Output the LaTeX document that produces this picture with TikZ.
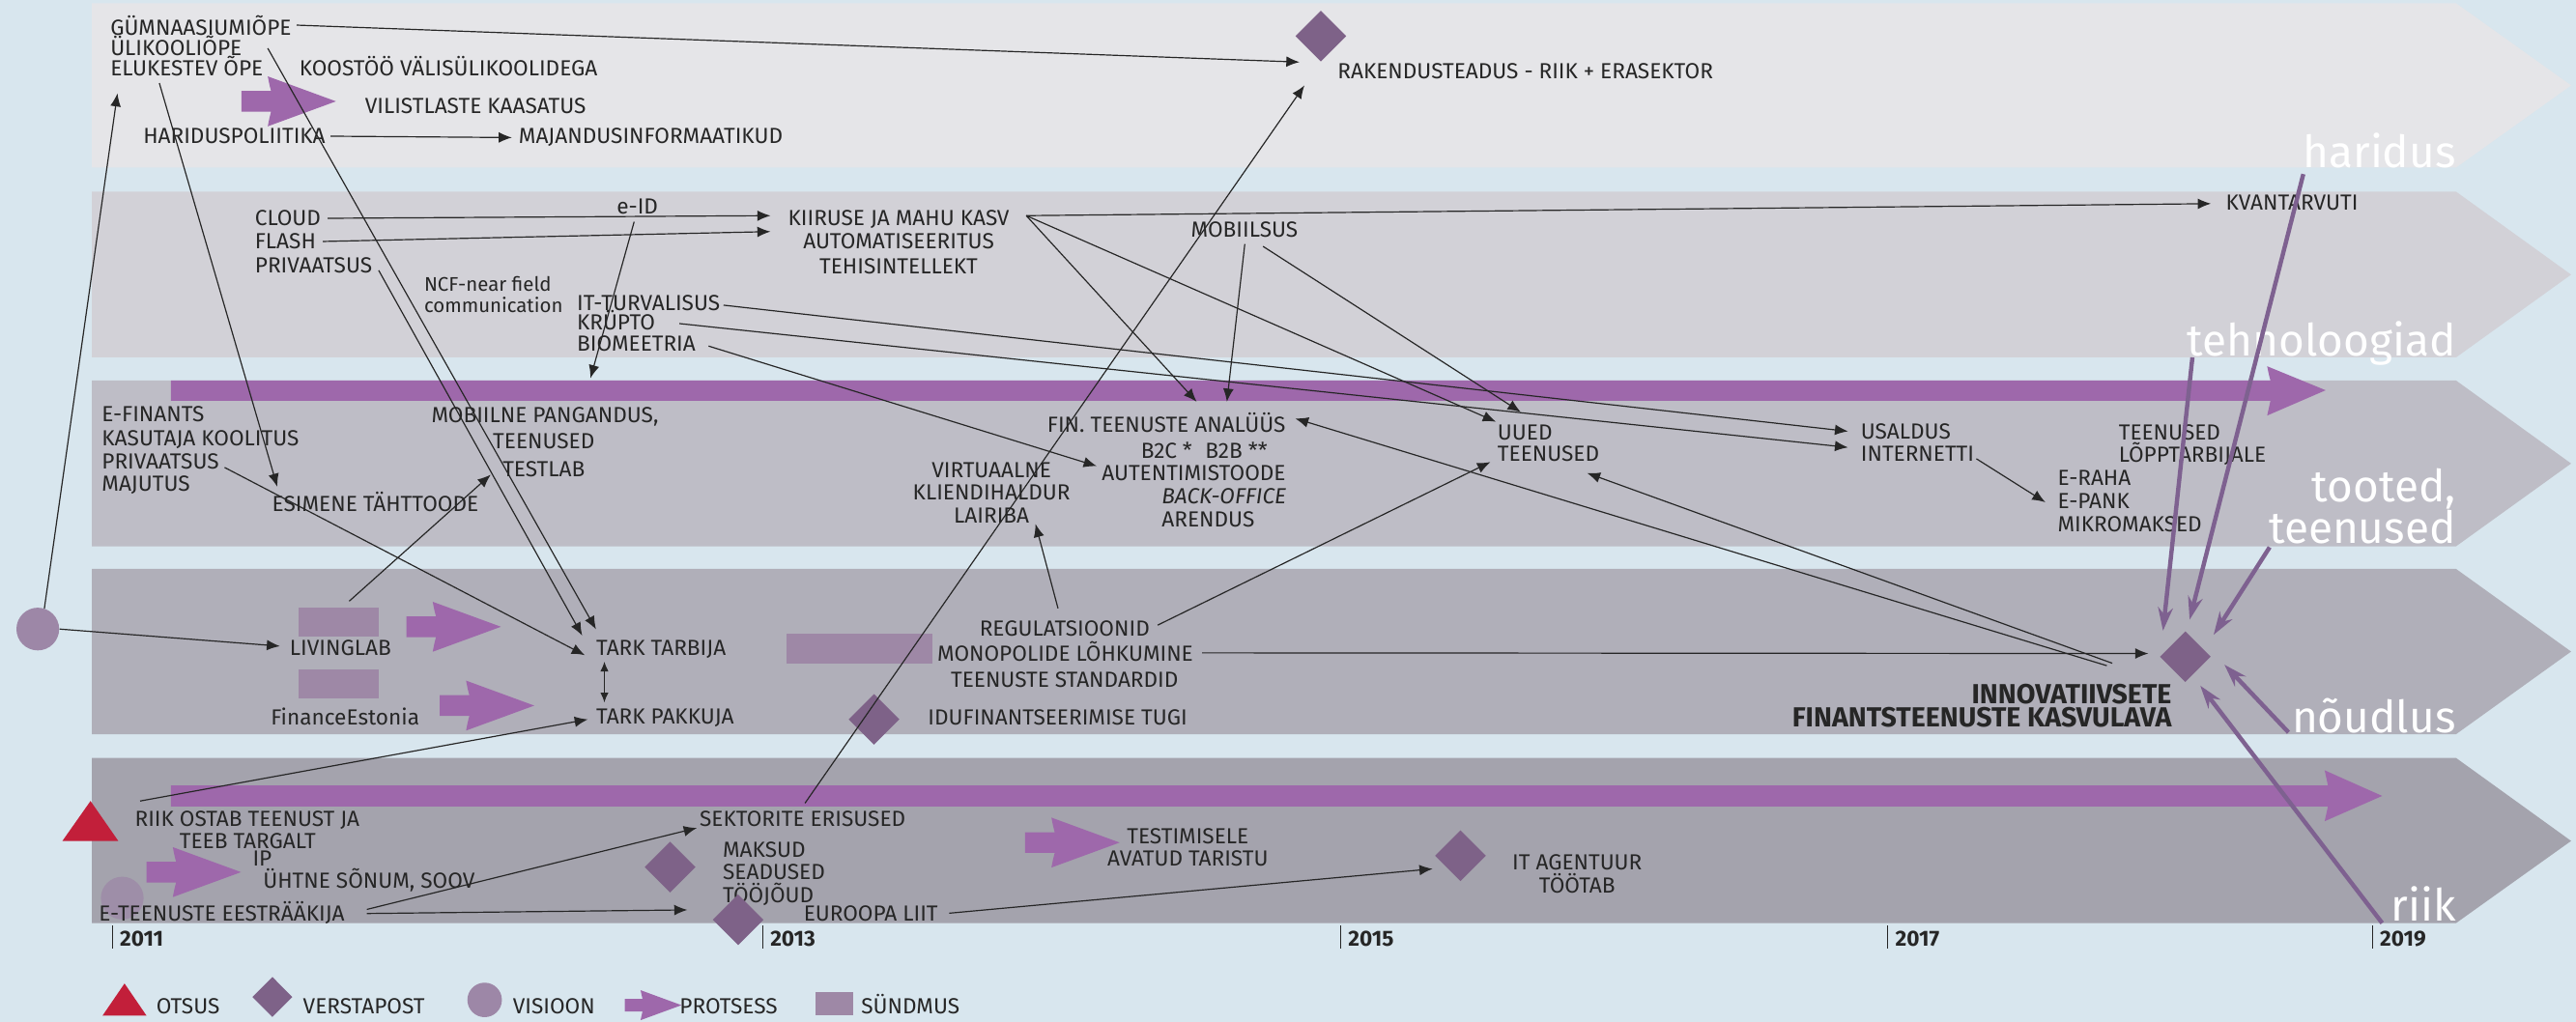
\documentclass[tikz,border=0pt]{standalone}
\usepackage{fontspec}
\setmainfont{Fira Sans}
\usetikzlibrary{arrows.meta,shapes.geometric}
\definecolor{bg}{HTML}{D8E6EE}
\definecolor{bandA}{HTML}{E5E5E8}
\definecolor{bandB}{HTML}{D2D1D7}
\definecolor{bandC}{HTML}{BEBDC6}
\definecolor{bandD}{HTML}{B0AFB9}
\definecolor{bandE}{HTML}{A4A3AD}
\definecolor{proc}{HTML}{9E68AB}
\definecolor{mile}{HTML}{7E6288}
\definecolor{vis}{HTML}{9D87A7}
\definecolor{evt}{HTML}{9E88A6}
\definecolor{otsus}{HTML}{C21F3A}
\definecolor{txt}{HTML}{262626}
\definecolor{parrow}{HTML}{7E6190}
\newcommand\fs{\fontsize{13.3}{13.3}\selectfont}
\newcommand\smfs{\fontsize{12}{12}\selectfont}
\newcommand\bigfs{\fontsize{27}{27}\selectfont}
\newcommand\boldfs{\fontsize{16.8}{16.8}\selectfont\bfseries}
\newcommand\procarrow[3]{%
 \fill[proc] ({#1},{#2-6.3*#3}) -- ({#1+18*#3},{#2-6.3*#3}) .. controls ({#1+17*#3},{#2-10*#3}) .. ({#1+16*#3},{#2-15.2*#3}) -- ({#1+57.5*#3},{#2}) -- ({#1+16*#3},{#2+15.2*#3}) .. controls ({#1+17*#3},{#2+10*#3}) .. ({#1+18*#3},{#2+6.3*#3}) -- ({#1},{#2+6.3*#3}) -- cycle;}
\tikzset{
 txl/.style={inner sep=0pt, font=\fs, text=txt, anchor=base west},
 txc/.style={txl, anchor=base},
 txr/.style={txl, anchor=base east},
 wlab/.style={inner sep=0pt, font=\bigfs, text=white, anchor=base east},
 conn/.style={draw=txt, line width=0.7pt, -{Latex[length=8pt,width=6.5pt]}},
 ln/.style={draw=txt, line width=0.7pt},
 parr/.style={draw=parrow, line width=2.6pt, -{Stealth[length=14pt,width=9pt]}},
 mstone/.style={diamond, fill=mile, inner sep=0pt, minimum width=31pt, minimum height=31pt},
 evbox/.style={fill=evt},
 vision/.style={circle, fill=vis, minimum size=26pt, inner sep=0pt},
}
\begin{document}
\begin{tikzpicture}[x=1pt,y=-1pt]
\useasboundingbox (0,0) rectangle (1568,622);
\fill[bg] (0,0) rectangle (1568,622);
% bands
\fill[bandA] (56,2) -- (1495,2) -- (1565,52) -- (1495,102) -- (56,102) -- cycle;
\fill[bandB] (56,116.7) -- (1495,116.7) -- (1565,167.2) -- (1495,217.6) -- (56,217.6) -- cycle;
\fill[bandC] (56,231.7) -- (1495,231.7) -- (1565,282.2) -- (1495,332.6) -- (56,332.6) -- cycle;
\fill[bandD] (56,346.4) -- (1495,346.4) -- (1565,396.7) -- (1495,447) -- (56,447) -- cycle;
\fill[bandE] (56,461.5) -- (1495,461.5) -- (1565,512) -- (1495,562) -- (56,562) -- cycle;
% long process bars
\fill[proc] (104,231.7) -- (1382,231.7) .. controls (1381,228) .. (1380,223) -- (1415.6,237.6) -- (1380,253) .. controls (1381,248) .. (1382,244) -- (104,244) -- cycle;
\fill[proc] (104,478.2) -- (1417,478.2) .. controls (1416,474) .. (1415,469) -- (1450,484.6) -- (1415,500) .. controls (1416,495) .. (1417,491) -- (104,491) -- cycle;
% white band labels
\node[wlab] (lHar) at (1495,102) {haridus};
\node[wlab] (lTeh) at (1495,217) {tehnoloogiad};
\node[wlab] (lToo) at (1495,305.8) {tooted,};
\node[wlab] (lTee) at (1495,331) {teenused};
\node[wlab] (lNou) at (1495,446) {nõudlus};
\node[wlab] (lRiik) at (1495,561) {riik};
% ---------- band 1
\node[txl] (gym) at (67,21.2) {GÜMNAASIUMIÕPE};
\node[txl] (uli) at (67,33.7) {ÜLIKOOLIÕPE};
\node[txl] (elu) at (67,46) {ELUKESTEV ÕPE};
\node[txl] (koos) at (182,46) {KOOSTÖÖ VÄLISÜLIKOOLIDEGA};
\procarrow{147}{61.7}{1}
\node[txl] (vil) at (222,69.2) {VILISTLASTE KAASATUS};
\node[txl] (har) at (87,87.5) {HARIDUSPOLIITIKA};
\node[txl] (maj) at (315.6,87.5) {MAJANDUSINFORMAATIKUD};
\node[mstone] (dRak) at (804,22) {};
\node[txl] (rak) at (814,48.2) {RAKENDUSTEADUS - RIIK + ERASEKTOR};
% ---------- band 2
\node[txl] (cloud) at (155,137.5) {CLOUD};
\node[txl] (flash) at (155,151.6) {FLASH};
\node[txl] (privA) at (155,165.9) {PRIVAATSUS};
\node[txc] (eid) at (388,130.3) {e-ID};
\node[txl, font=\smfs] (ncfA) at (258,177.4) {NCF-near field};
\node[txl, font=\smfs] (ncfB) at (258,190.5) {communication};
\node[txl] (itt) at (351,189.1) {IT-TURVALISUS};
\node[txl] (kru) at (351,200.9) {KRÜPTO};
\node[txl] (bio) at (351,213.6) {BIOMEETRIA};
\node[txc] (kiir) at (547,137.5) {KIIRUSE JA MAHU KASV};
\node[txc] (autom) at (547,151.6) {AUTOMATISEERITUS};
\node[txc] (tehis) at (547,166.9) {TEHISINTELLEKT};
\node[txc] (mob) at (757.5,144.2) {MOBIILSUS};
\node[txl] (kvant) at (1354.6,128.2) {KVANTARVUTI};
% ---------- band 3
\node[txl] (efin) at (61.8,257) {E-FINANTS};
\node[txl] (kasut) at (61.8,271.2) {KASUTAJA KOOLITUS};
\node[txl] (privB) at (61.8,285.5) {PRIVAATSUS};
\node[txl] (majut) at (61.8,299.2) {MAJUTUS};
\node[txl] (esim) at (165.5,311.2) {ESIMENE TÄHTTOODE};
\node[txc] (mobp) at (331.7,257.4) {MOBIILNE PANGANDUS,};
\node[txc] (teenA) at (331,273.2) {TEENUSED};
\node[txc] (testlab) at (331,290.2) {TESTLAB};
\node[txc] (fin) at (710,262.9) {FIN. TEENUSTE ANALÜÜS};
\node[txc] (b2) at (733,279) {B2C *\hspace{8pt}B2B **};
\node[txc] (autent) at (726.6,292.7) {AUTENTIMISTOODE};
\node[txl] (back) at (707,307) {\itshape BACK-OFFICE};
\node[txl] (arend) at (707,320.7) {ARENDUS};
\node[txc] (virt) at (603.5,290.8) {VIRTUAALNE};
\node[txc] (klie) at (603.5,304.5) {KLIENDIHALDUR};
\node[txc] (lair) at (603.5,318.2) {LAIRIBA};
\node[txl] (uued) at (911.4,267.8) {UUED};
\node[txl] (teenB) at (911.4,281) {TEENUSED};
\node[txl] (usal) at (1132.5,267.2) {USALDUS};
\node[txl] (inter) at (1132.5,280.6) {INTERNETTI};
\node[txl] (eraha) at (1252.3,295.6) {E-RAHA};
\node[txl] (epank) at (1252.3,309.6) {E-PANK};
\node[txl] (mikro) at (1252.3,323.7) {MIKROMAKSED};
\node[txl] (teenC) at (1289.5,267.8) {TEENUSED};
\node[txl] (lopp) at (1289.5,281.5) {LÕPPTARBIJALE};
% ---------- band 4
\node[vision] (vis) at (23,383) {};
\fill[evbox] (181.6,369.9) rectangle (230.6,387.7);
\coordinate (evLiv) at (212.6,366);
\fill[evbox] (181.6,407.7) rectangle (230.6,425.3);
\fill[evbox] (479,385.7) rectangle (567.5,403.8);
\procarrow{247.4}{381.6}{1}
\procarrow{267.7}{429.6}{1}
\node[txl] (liv) at (176.2,399.2) {LIVINGLAB};
\node[txl] (finest) at (164.7,441.2) {FinanceEstonia};
\node[txl] (tarkt) at (362.8,399.2) {TARK TARBIJA};
\node[txl] (tarkp) at (362.8,440.9) {TARK PAKKUJA};
\node[txc] (reg) at (648,387) {REGULATSIOONID};
\node[txc] (mono) at (648.4,402.7) {MONOPOLIDE LÕHKUMINE};
\node[txc] (stand) at (648,418.2) {TEENUSTE STANDARDID};
\node[mstone] (dIdu) at (532,438) {};
\node[txl] (iduf) at (564.7,441.2) {IDUFINANTSEERIMISE TUGI};
\node[mstone] (dInn) at (1330.2,399.8) {};
\node[inner sep=0pt, font=\boldfs, text=txt, anchor=base east] (innA) at (1322,428.3) {INNOVATIIVSETE};
\node[inner sep=0pt, font=\boldfs, text=txt, anchor=base east] (innB) at (1322,442.4) {FINANTSTEENUSTE KASVULAVA};
% ---------- band 5
\fill[otsus] (55.1,487.7) -- (72,512) -- (38,512) -- cycle;
\node[vision, opacity=0.75] (visB) at (74.4,546.8) {};
\procarrow{89.2}{531}{1}
\node[txc] (riikA) at (150.5,503.3) {RIIK OSTAB TEENUST JA};
\node[txc] (riikB) at (150.8,516.5) {TEEB TARGALT};
\node[txl] (riikC) at (153.6,527.5) {IP};
\node[txl] (uhtne) at (160,540.6) {ÜHTNE SÕNUM, SOOV};
\node[txl] (etee) at (60,560.6) {E-TEENUSTE EESTRÄÄKIJA};
\node[txl] (sekt) at (425.7,503.3) {SEKTORITE ERISUSED};
\node[mstone] (dMak) at (407.9,527.9) {};
\node[txl] (maks) at (439.8,522) {MAKSUD};
\node[txl] (sead) at (439.8,535.7) {SEADUSED};
\node[txl] (tooj) at (439.8,549.8) {TÖÖJÕUD};
\node[mstone] (dEur) at (449.3,560) {};
\node[txl] (eur) at (489,560.6) {EUROOPA LIIT};
\procarrow{624}{513}{1}
\node[txc] (testi) at (723,513.5) {TESTIMISELE};
\node[txc] (avat) at (723,527.5) {AVATUD TARISTU};
\node[mstone] (dIT) at (889,521) {};
\node[txc] (itag) at (960,529.5) {IT AGENTUUR};
\node[txc] (tootab) at (960,543.5) {TÖÖTAB};
% ---------- timeline
\foreach \xx/\yy [count=\i] in {68.3/2011,464.2/2013,816/2015,1149/2017,1444/2019}{
 \draw[txt, line width=0.6pt] (\xx,563.5) -- (\xx,577.5);
 \node[txl, font=\fs\bfseries] (yr\i) at (\xx+4.5,576.2) {\yy};
}
% ---------- legend
\fill[otsus] (75.8,598.8) -- (89.2,618.4) -- (62.4,618.4) -- cycle;
\node[txl] (legA) at (95,617) {OTSUS};
\node[mstone, minimum width=24.4pt, minimum height=24.5pt] (legDia) at (165.8,607) {};
\node[txl] (legB) at (184.3,617) {VERSTAPOST};
\node[vision, minimum size=21pt] (legVis) at (295,608.8) {};
\node[txl] (legC) at (312,617) {VISIOON};
\procarrow{380.3}{612}{0.6}
\node[txl] (legD) at (413.5,617) {PROTSESS};
\fill[evbox] (496.4,604) rectangle (519.3,618.4);
\node[txl] (legE) at (524,617) {SÜNDMUS};
% ---------- connectors
\draw[conn] ([xshift=3pt]gym.east) -- (791,37.8);
\draw[conn] (163,29.4) -- (362.8,383.2);
\draw[conn] (97,50.6) -- (168.8,296.4);
\draw[conn] (27,370.5) -- (71.5,56.8);
\draw[conn] (vis.east) -- (170.4,393.4);
\draw[conn] ([xshift=3pt]har.east) -- ([xshift=-4pt]maj.west);
\draw[conn] ([xshift=4pt]cloud.east) -- (469,131.3);
\draw[conn] ([xshift=4pt]flash.east) -- (469,141);
\draw[conn] (386,135) -- (359.4,230.3);
\draw[conn] (230.5,164.6) -- (354.4,387);
\draw[conn] (624.7,131.3) -- (1345.8,124);
\draw[conn] (624.7,131.3) -- (728.4,244.6);
\draw[conn] (624.7,131.3) -- (910.6,256.8);
\draw[conn] (757.7,148.6) -- (746.8,244.6);
\draw[conn] (768.8,150) -- (925.7,250.9);
\draw[conn] (440.4,185.8) -- (1124.9,262.6);
\draw[conn] (413.5,197) -- (1124.9,272.4);
\draw[conn] (431.3,210.7) -- (667.6,283.8);
\draw[conn] (136.7,284.6) -- (356,398.9);
\draw[conn] (evLiv) -- (298.7,289);
\draw[conn] (644,370.4) -- (630.3,319);
\draw[conn] (704.7,380.6) -- (907.2,281.3);
\draw[conn] (1282.4,405.3) -- (788.4,254.8);
\draw[conn] (1285.7,403.8) -- (966,288);
\draw[conn] (1203,279.3) -- (1245,305.8);
\draw[conn] (731.7,397.5) -- (1307.7,397.9);
\draw[draw=txt, line width=0.7pt, {Latex[length=6pt,width=5pt]}-{Latex[length=6pt,width=5pt]}] (367.9,402.8) -- (367.9,427.7);
\draw[conn] (85.3,487.7) -- (357.8,438);
\draw[conn] (490,489) -- (794,52);
\draw[conn] (223.3,553.7) -- (424.2,504.1);
\draw[conn] (223.3,556.2) -- (418.4,554);
\draw[conn] (577.8,556) -- (872,529);
% purple arrows into the incubator
\draw[parr] (1334.5,217.6) -- (1316.6,384);
\draw[parr] (1402,106) -- (1332.8,377.3);
\draw[parr] (1381.5,333.2) -- (1347.4,386.5);
\draw[parr] (1393,445.9) -- (1354,404.7);
\draw[parr] (1450,562) -- (1339.3,417.5);
\end{tikzpicture}
\end{document}
